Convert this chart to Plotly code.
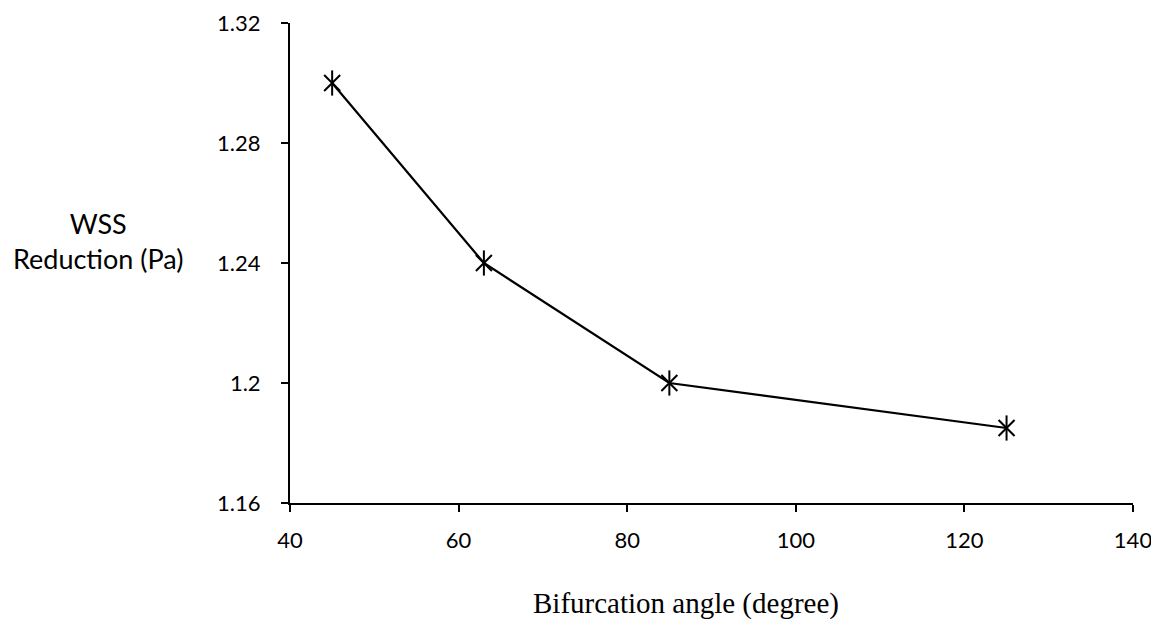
import plotly.graph_objects as go

angles = [45, 63, 85, 125]
wss_reduction = [1.30, 1.24, 1.20, 1.185]
x_ticks = [40, 60, 80, 100, 120, 140]
y_ticks = [1.16, 1.20, 1.24, 1.28, 1.32]
y_tick_labels = ["1.16", "1.2", "1.24", "1.28", "1.32"]

fig = go.Figure()
fig.add_trace(go.Scatter(
    x=angles, y=wss_reduction, mode="lines",
    line=dict(color="black", width=2.2), showlegend=False,
))
fig.add_trace(go.Scatter(
    x=angles, y=wss_reduction, mode="markers",
    marker=dict(symbol="x-thin-open", size=16, color="black",
                line=dict(color="black", width=2)),
    showlegend=False,
))
fig.add_trace(go.Scatter(
    x=angles, y=wss_reduction, mode="markers",
    marker=dict(symbol="line-ns-open", size=18, color="black",
                line=dict(color="black", width=2)),
    showlegend=False,
))

fig.update_layout(
    width=1159, height=629,
    margin=dict(l=282, r=34, t=15, b=134),
    paper_bgcolor="white", plot_bgcolor="white",
    font=dict(family="Lato, Open Sans, sans-serif", size=22, color="black"),
    xaxis=dict(range=[40, 140], tickvals=x_ticks, showline=True,
               linecolor="black", linewidth=2, ticks="outside",
               ticklen=7, tickwidth=2, tickcolor="black", showgrid=False,
               zeroline=False, ticklabelstandoff=10,
               ticklabeloverflow="allow", automargin=False),
    yaxis=dict(range=[1.16, 1.32], tickvals=y_ticks, ticktext=y_tick_labels,
               showline=True, linecolor="black", linewidth=2,
               ticks="outside", ticklen=7, tickwidth=2, tickcolor="black",
               showgrid=False, zeroline=False, ticklabelstandoff=16,
               ticklabeloverflow="allow", automargin=False),
    annotations=[
        dict(text="WSS<br>Reduction (Pa)", xref="paper", yref="paper",
             x=-0.228, y=0.545, xanchor="center", yanchor="middle",
             showarrow=False, align="center",
             font=dict(family="Lato, Open Sans, sans-serif", size=27)),
        dict(text="Bifurcation angle (degree)", xref="paper", yref="paper",
             x=0.47, y=-0.21, xanchor="center", yanchor="middle",
             showarrow=False,
             font=dict(family="Liberation Serif, Times New Roman, serif", size=29)),
    ],
)

fig.write_html("out.html")
